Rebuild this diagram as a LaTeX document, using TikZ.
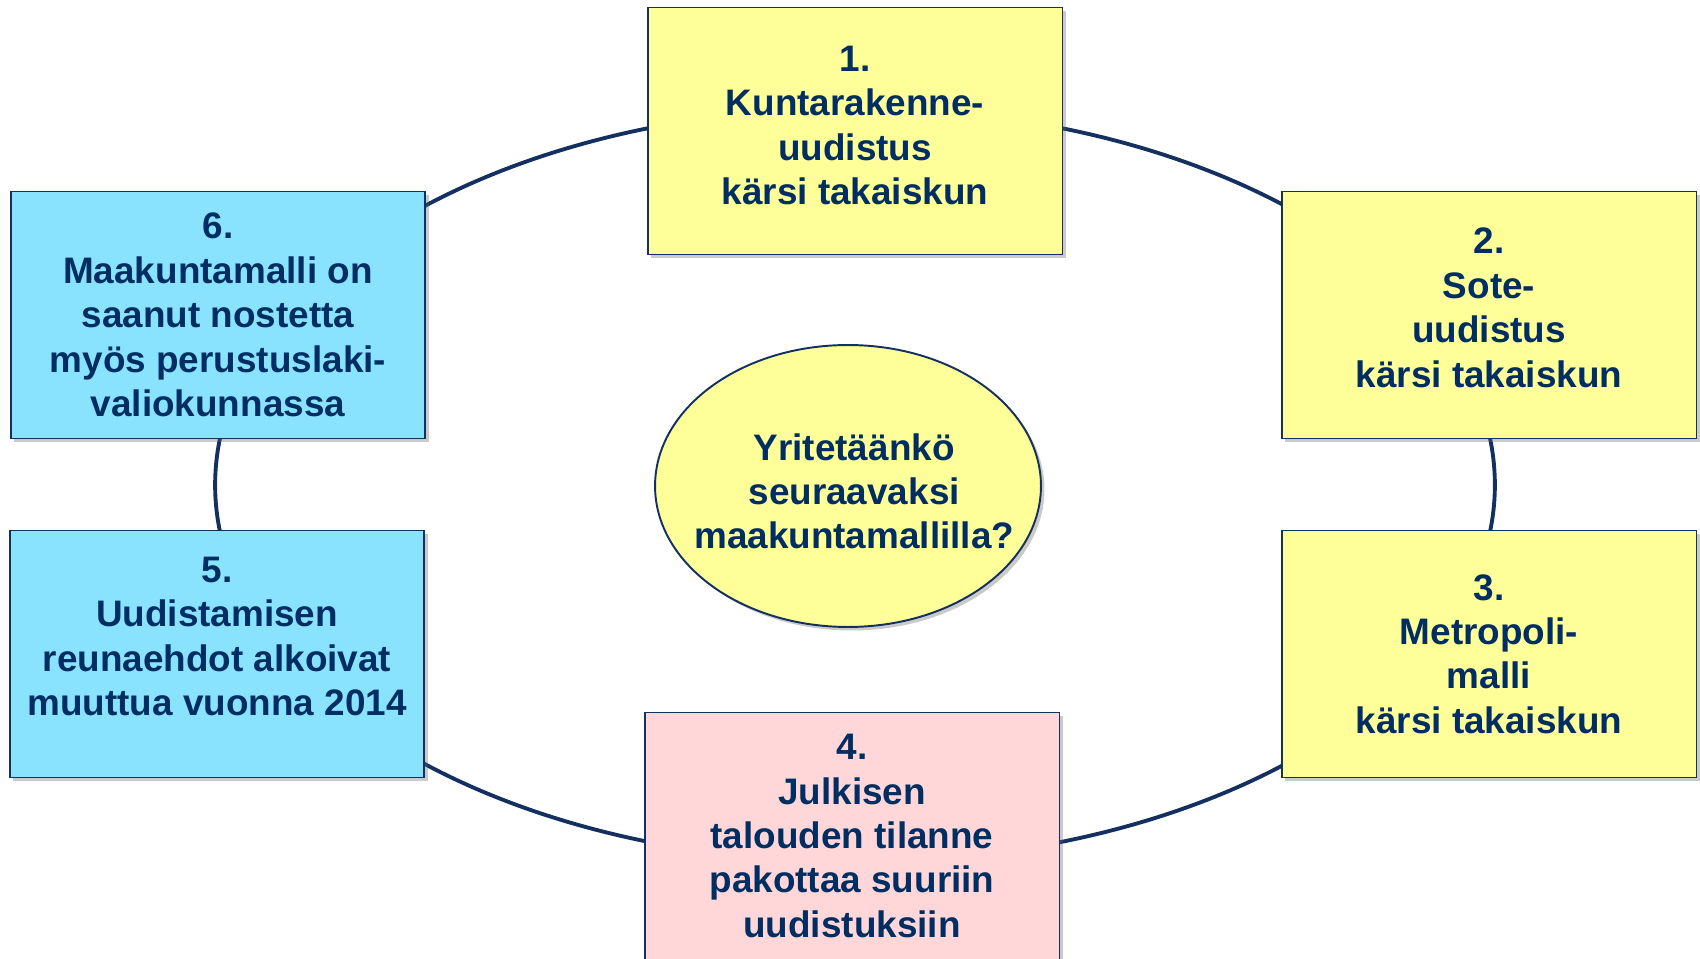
\documentclass[tikz,border=0pt]{standalone}
\usepackage{fontspec}
\setmainfont{Liberation Sans}
\usepackage{tikz}
\usetikzlibrary{shapes.geometric,shadows}

\definecolor{navy}{RGB}{0,46,98}
\definecolor{rim}{RGB}{20,48,96}
\definecolor{paleyellow}{RGB}{255,255,153}
\definecolor{palecyan}{RGB}{137,227,255}
\definecolor{palepink}{RGB}{255,215,217}

\tikzset{
  stagebox/.style={draw=rim,line width=1.1pt,rectangle,
    minimum width=8.3cm,minimum height=4.94cm,inner sep=0pt,
    align=center,text=navy,
    font=\fontsize{21}{25.3}\selectfont\bfseries,
    drop shadow={shadow xshift=2pt,shadow yshift=-2pt,opacity=0.35,fill=black!60}},
  failed/.style={stagebox,fill=paleyellow},
  rising/.style={stagebox,fill=palecyan},
  pressure/.style={stagebox,fill=palepink}
}

\begin{document}
\begin{tikzpicture}[x=0.02cm,y=0.02cm]
  \useasboundingbox
  (0,0) rectangle (1700,958);
  % the cycle behind the boxes
  \node[draw=rim,line width=2.2pt,ellipse,inner sep=0pt,
    minimum width=25.6cm,minimum height=15.08cm]
  (ring) at (855,473) {};
  \node[failed,text depth=0.22cm] (reform1) at (855,827)
  {1.\\Kuntarakenne-\\uudistus\\kärsi takaiskun};
  \node[failed,text depth=0.3cm] (reform2) at (1489,643)
  {2.\\Sote-\\uudistus\\kärsi takaiskun};
  \node[failed] (reform3) at (1489,304)
  {3.\\Metropoli-\\malli\\kärsi takaiskun};
  \node[pressure] (reform4) at (852,122)
  {4.\\Julkisen\\talouden tilanne\\pakottaa suuriin\\uudistuksiin};
  \node[rising,text depth=0.7cm] (reform5) at (217,304)
  {5.\\Uudistamisen\\reunaehdot alkoivat\\muuttua vuonna 2014};
  \node[rising] (reform6) at (218,643)
  {6.\\Maakuntamalli on\\saanut nostetta\\myös perustuslaki-\\valiokunnassa};
  % question in the middle
  \node[draw=rim,line width=1.1pt,ellipse,fill=paleyellow,inner sep=0pt,
    minimum width=7.72cm,minimum height=5.64cm,
    drop shadow={shadow xshift=2pt,shadow yshift=-2pt,opacity=0.35,fill=black!60},
    label={[xshift=3.5pt,yshift=-3pt,align=center,text=navy,font=\fontsize{21}{25.3}\selectfont\bfseries]center:Yritetäänkö\\seuraavaksi\\maakuntamallilla?}]
  (question) at (848,472) {};
\end{tikzpicture}
\end{document}
